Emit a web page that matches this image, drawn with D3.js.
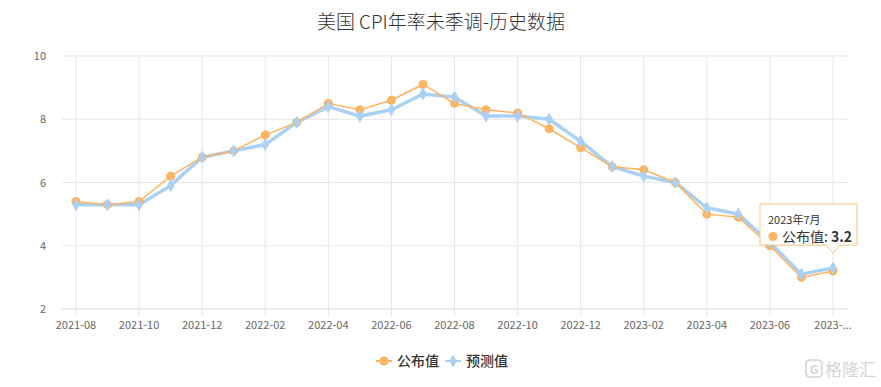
<!DOCTYPE html>
<html>
<head>
<meta charset="utf-8">
<script src="https://cdn.jsdelivr.net/npm/d3@7"></script>
<style>
  body { margin: 0; background: #fff; }
  svg { font-family: "Noto Sans CJK SC", "Noto Sans", sans-serif; }
</style>
</head>
<body>
<div id="chart"></div>
<script>
// release month on the axis, reference month in the tooltip
const months = ['2021-08','2021-09','2021-10','2021-11','2021-12','2022-01','2022-02','2022-03','2022-04',
  '2022-05','2022-06','2022-07','2022-08','2022-09','2022-10','2022-11','2022-12','2023-01','2023-02',
  '2023-03','2023-04','2023-05','2023-06','2023-07','2023-08'];
const published = [5.4,5.3,5.4,6.2,6.8,7.0,7.5,7.9,8.5,8.3,8.6,9.1,8.5,8.3,8.2,7.7,7.1,6.5,6.4,6.0,5.0,4.9,4.0,3.0,3.2];
const forecast = [5.3,5.3,5.3,5.9,6.8,7.0,7.2,7.9,8.4,8.1,8.3,8.8,8.7,8.1,8.1,8.0,7.3,6.5,6.2,6.0,5.2,5.0,4.1,3.1,3.3];
const yTicks = [2, 4, 6, 8, 10];
const seriesNames = ['公布值', '预测值'];
const tipTitle = '2023年7月';

const width = 881, height = 387;
const orange = '#fdb462', blue = '#aad1f3';

const svg = d3.select('#chart').append('svg')
  .attr('width', width)
  .attr('height', height);

// title
svg.append('text')
  .attr('x', 441)
  .attr('y', 29)
  .attr('text-anchor', 'middle')
  .attr('fill', '#333')
  .attr('font-size', '19px')
  .attr('font-weight', 300)
  .text('美国 CPI年率未季调-历史数据');

const x = d3.scalePoint().domain(months).range([76, 833]);
const y = d3.scaleLinear().domain([2, 10]).range([309, 56]);

// horizontal grid
svg.selectAll('.hgrid')
  .data(yTicks)
  .enter().append('line')
  .attr('x1', 62).attr('x2', 848)
  .attr('y1', d => y(d)).attr('y2', d => y(d))
  .attr('stroke', '#e6e6e6')
  .attr('stroke-width', 1);

// vertical grid on labelled months
const labelled = months.filter((m, i) => i % 2 === 0);
svg.selectAll('.vgrid')
  .data(labelled)
  .enter().append('line')
  .attr('x1', d => x(d)).attr('x2', d => x(d))
  .attr('y1', 56).attr('y2', 316)
  .attr('stroke', '#e0e6ee')
  .attr('stroke-width', 1);

// x axis baseline
svg.append('line')
  .attr('x1', 62).attr('x2', 848)
  .attr('y1', 309).attr('y2', 309)
  .attr('stroke', '#dde3ec');

// y labels
svg.selectAll('.ylab')
  .data(yTicks)
  .enter().append('text')
  .attr('x', 46)
  .attr('y', d => y(d) + 4)
  .attr('text-anchor', 'end')
  .attr('fill', '#666')
  .attr('font-size', '11px')
  .text(d => d);

// x labels
svg.selectAll('.xlab')
  .data(labelled)
  .enter().append('text')
  .attr('x', d => x(d))
  .attr('y', 329)
  .attr('text-anchor', 'middle')
  .attr('fill', '#666')
  .attr('font-size', '11px')
  .text((d, i) => i === labelled.length - 1 ? d.slice(0, 5) + '...' : d);

const line = d3.line().x((d, i) => x(months[i])).y(d => y(d));

// forecast series
svg.append('path')
  .datum(forecast)
  .attr('d', line)
  .attr('fill', 'none')
  .attr('stroke', blue)
  .attr('stroke-width', 3.5);

// published series
svg.append('path')
  .datum(published)
  .attr('d', line)
  .attr('fill', 'none')
  .attr('stroke', orange)
  .attr('stroke-width', 1.5);

const diamond = d3.symbol().type(d3.symbolDiamond).size(50);

svg.selectAll('.pub')
  .data(published)
  .enter().append('circle')
  .attr('cx', (d, i) => x(months[i]))
  .attr('cy', d => y(d))
  .attr('r', 4.5)
  .attr('fill', orange);

svg.selectAll('.fc')
  .data(forecast)
  .enter().append('path')
  .attr('d', diamond)
  .attr('transform', (d, i) => `translate(${x(months[i])},${y(d)})`)
  .attr('fill', blue);

// legend
const legend = svg.append('g').attr('transform', 'translate(0,361)');
[[orange, 'circle'], [blue, 'diamond']].forEach(([c, shape], i) => {
  const lx = 376 + i * 69;
  legend.append('line')
    .attr('x1', lx).attr('x2', lx + 16)
    .attr('stroke', c).attr('stroke-width', 2);
  if (shape === 'circle') {
    legend.append('circle').attr('cx', lx + 8).attr('r', 4.5).attr('fill', c);
  } else {
    legend.append('path').attr('d', diamond).attr('transform', `translate(${lx + 8},0)`).attr('fill', c);
  }
  legend.append('text')
    .attr('x', lx + 21)
    .attr('y', 5)
    .attr('fill', '#333')
    .attr('font-size', '14px')
    .attr('font-weight', 500)
    .text(seriesNames[i]);
});

// tooltip on the last point
const last = months.length - 1;
const tx = x(months[last]);
const tipY = y(published[last]) - 18;
const tip = svg.append('g');
tip.append('path')
  .attr('d', `M760,204 H857 V${tipY - 8} H${tx + 7} L${tx},${tipY} L${tx - 7},${tipY - 8} H760 Z`)
  .attr('fill', 'rgba(255,255,255,0.92)')
  .attr('stroke', '#f9c77f')
  .attr('stroke-width', 1);
tip.append('text')
  .attr('x', 768)
  .attr('y', 224)
  .attr('fill', '#333')
  .attr('font-size', '11px')
  .text(tipTitle);
tip.append('circle')
  .attr('cx', 773).attr('cy', 236.5).attr('r', 4.5).attr('fill', orange);
const tt = tip.append('text')
  .attr('x', 782)
  .attr('y', 241.5)
  .attr('fill', '#333')
  .attr('font-size', '14px');
tt.append('tspan').text(seriesNames[0] + ': ');
tt.append('tspan').attr('font-weight', 'bold').text(published[last]);

// watermark
const wm = svg.append('g').attr('transform', 'translate(806,360)').attr('opacity', 0.5);
wm.append('rect')
  .attr('x', 0).attr('y', 0).attr('width', 16).attr('height', 17).attr('rx', 4)
  .attr('fill', 'none').attr('stroke', '#aaa').attr('stroke-width', 1.6);
wm.append('text')
  .attr('x', 8).attr('y', 13.5).attr('text-anchor', 'middle')
  .attr('fill', '#aaa').attr('font-size', '12px').attr('font-weight', 'bold').text('G');
wm.append('text')
  .attr('x', 19).attr('y', 16)
  .attr('fill', '#aaa').attr('font-size', '17px').text('格隆汇');
</script>
</body>
</html>
